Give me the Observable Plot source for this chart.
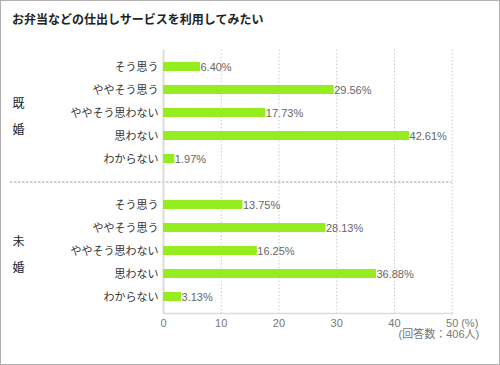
<!DOCTYPE html>
<html>
<head>
<meta charset="utf-8">
<script src="https://cdn.jsdelivr.net/npm/d3@7"></script>
<script src="https://cdn.jsdelivr.net/npm/@observablehq/plot@0.6"></script>
<style>
  html, body { margin: 0; padding: 0; background: #fff; }
  #wrap { position: relative; width: 500px; height: 365px; overflow: hidden;
          font-family: "Liberation Sans", "Noto Sans CJK JP", sans-serif; }
  #border { position: absolute; left: 0; top: 0; width: 500px; height: 365px;
            box-sizing: border-box; border: 1px solid #b0b0b0; pointer-events: none; }
  #title { height: 38px; box-sizing: border-box; padding: 11px 0 0 12px;
           font-size: 12px; font-weight: bold; color: #222; line-height: 16px;
           font-family: "Noto Sans CJK JP", sans-serif; }
  #chart svg { display: block; }
</style>
</head>
<body>
<div id="wrap">
  <div id="title">お弁当などの仕出しサービスを利用してみたい</div>
  <div id="chart"></div>
  <div id="border"></div>
</div>
<script>
const titleText = "お弁当などの仕出しサービスを利用してみたい";
const groups = ["既婚", "未婚"];
const answers = ["そう思う", "ややそう思う", "ややそう思わない", "思わない", "わからない"];
const marriedValues = [6.40, 29.56, 17.73, 42.61, 1.97];
const singleValues = [13.75, 28.13, 16.25, 36.88, 3.13];
const xTicks = [0, 10, 20, 30, 40, 50];
const unitLabel = "(%)";
const noteText = "(回答数：406人)";

const SEP = "__sep__";
const rows = [];
groups.forEach((g, gi) => {
  const vals = gi === 0 ? marriedValues : singleValues;
  answers.forEach((a, i) => rows.push({group: g, answer: a, key: g + "|" + a, value: vals[i]}));
});
const domainY = [
  ...answers.map(a => groups[0] + "|" + a),
  SEP,
  ...answers.map(a => groups[1] + "|" + a)
];
const groupLabels = groups.map(g => ({key: g + "|" + answers[2], text: g.split("").join("\n")}));

const font = '"Liberation Sans", "Noto Sans CJK JP", sans-serif';

const chart = Plot.plot({
  width: 500,
  height: 327,
  marginLeft: 163,
  marginRight: 48.3,
  marginTop: 11.7,
  marginBottom: 52,
  style: {fontFamily: font, fontSize: "11px", background: "transparent"},
  x: {domain: [0, 50], label: null},
  y: {domain: domainY, paddingInner: 0.6, paddingOuter: 0.3, align: 0.5, label: null},
  marks: [
    Plot.gridX(xTicks.slice(1), {stroke: "#c8c8c8", strokeOpacity: 1, strokeDasharray: "1.5,2"}),
    Plot.ruleY([SEP], {stroke: "#a0a0a0", strokeDasharray: "2.5,1.5", insetLeft: -153}),
    Plot.frame({anchor: "bottom", stroke: "#dcdcdc", strokeWidth: 1.5}),
    Plot.ruleX([0], {stroke: "#dcdcdc", strokeWidth: 2}),
    Plot.barX(rows, {x: "value", y: "key", fill: "#95ec1e", insetTop: 0, insetBottom: 0}),
    Plot.text(rows, {x: "value", y: "key", text: d => d.value.toFixed(2) + "%",
      textAnchor: "start", dx: 0, fill: "#666", fontSize: 11}),
    Plot.axisY({tickSize: 0, tickPadding: 5, fontSize: 11, color: "#333", label: null,
      tickFormat: k => k === SEP ? "" : k.split("|")[1]}),
    Plot.axisX(xTicks, {tickSize: 0, tickPadding: 6, fontSize: 11, color: "#777", label: null,
      tickFormat: d => String(d)}),
    Plot.text([unitLabel], {x: 50, frameAnchor: "bottom", textAnchor: "start", dx: 9, dy: 6,
      lineAnchor: "top", fill: "#777", fontSize: 11}),
    Plot.text([noteText], {frameAnchor: "bottom-right", textAnchor: "end", dx: 27, dy: 17,
      lineAnchor: "top", fill: "#777", fontSize: 11}),
    Plot.text(groupLabels, {x: 0, y: "key", text: "text", textAnchor: "start", dx: -151,
      lineHeight: 2.1, fill: "#222", fontSize: 12})
  ]
});
document.getElementById("chart").appendChild(chart);
</script>
</body>
</html>
